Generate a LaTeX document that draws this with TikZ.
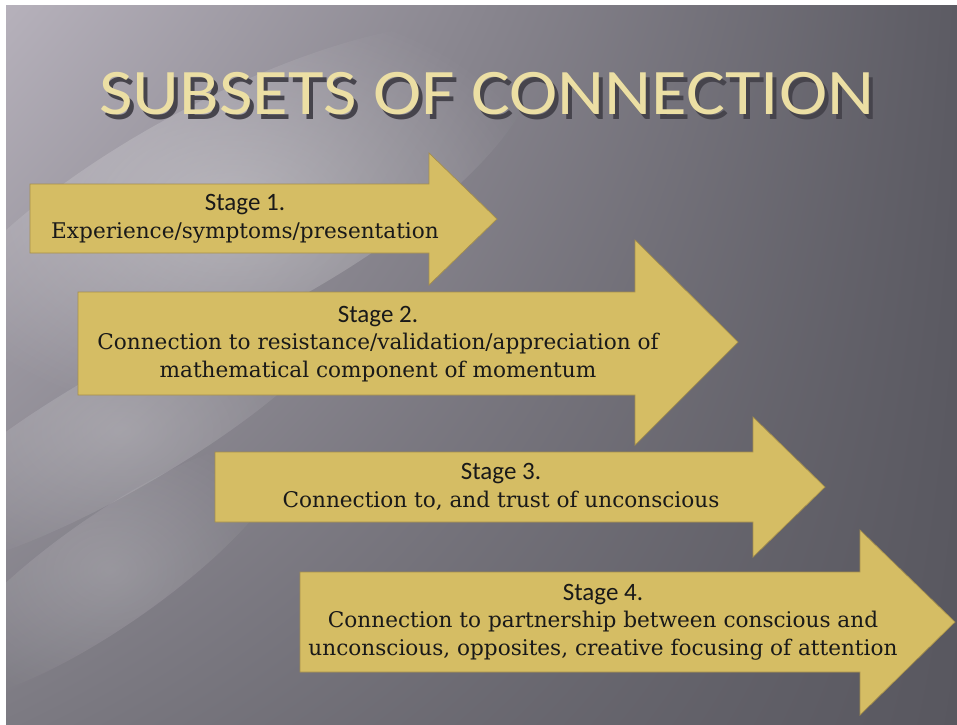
\documentclass[tikz,border=0pt]{standalone}
\usepackage{fontspec}
\setmainfont{DejaVu Serif}
\newfontfamily\titlefont{Carlito}[FakeStretch=1.12]
\newfontfamily\stagefont{Carlito}
\usetikzlibrary{fadings,shadings}

\definecolor{stagegold}{HTML}{D5BD64}
\definecolor{stageedge}{HTML}{A58F4C}
\definecolor{titlegold}{HTML}{ECDFA4}
\definecolor{titleshade}{RGB}{70,68,76}
\definecolor{backul}{RGB}{182,177,187}
\definecolor{backur}{RGB}{92,91,99}
\definecolor{backll}{RGB}{124,122,130}
\definecolor{backlr}{RGB}{88,87,95}
\tikzfading[name=softspot, inner color=transparent!30, outer color=transparent!100]

\begin{document}
\begin{tikzpicture}[x=1pt,y=-1pt,
  stagearrow/.style={fill=stagegold,draw=stageedge,line width=0.7pt,line join=miter},
  stagetext/.style={align=center,text=black!90,font=\fontsize{21.6}{27.5}\selectfont},
  streak/.style={fill=white,path fading=softspot}]
  \useasboundingbox (0,0) rectangle (957,724);
  % backdrop, light at the upper left and dark to the right
  \fill[white] (0,0) rectangle (957,724);
  \shade[upper left=backul,upper right=backur,lower left=backll,lower right=backlr]
    (6,5) rectangle (957,724);
  % soft diagonal light streaks
  \begin{scope}
    \clip (6,5) rectangle (957,724);
    \fill[streak,opacity=0.45,rotate around={28:(230,210)}] (230,210) ellipse (340 and 110);
    \fill[streak,opacity=0.30,rotate around={30:(120,430)}] (120,430) ellipse (260 and 60);
    \fill[streak,opacity=0.25,rotate around={35:(110,570)}] (110,570) ellipse (210 and 55);
  \end{scope}
  % title with its shadow
  \node[text=titlegold,anchor=base] (title) at (487,114)
    {\titlefont\fontsize{65}{65}\selectfont
     \rlap{\hspace{4pt}\raisebox{-5pt}{\color{titleshade}SUBSETS OF CONNECTION}}%
     SUBSETS OF CONNECTION};
  % stage 1
  \draw[stagearrow] (30,184) -- (429,184) -- (429,153) -- (497,219)
    -- (429,285) -- (429,253) -- (30,253) -- cycle;
  \node[stagetext] (stageone) at (245,219)
    {{\stagefont\fontsize{25}{25}\selectfont Stage 1.}\\Experience/symptoms/presentation};
  % stage 2
  \draw[stagearrow] (78,292) -- (635,292) -- (635,240) -- (738,342)
    -- (635,445) -- (635,395) -- (78,395) -- cycle;
  \node[stagetext] (stagetwo) at (378,344)
    {{\stagefont\fontsize{25}{25}\selectfont Stage 2.}\\Connection to resistance/validation/appreciation of\\
     mathematical component of momentum};
  % stage 3
  \draw[stagearrow] (215,452) -- (753,452) -- (753,417) -- (825,487)
    -- (753,557) -- (753,522) -- (215,522) -- cycle;
  \node[stagetext] (stagethree) at (501,487)
    {{\stagefont\fontsize{25}{25}\selectfont Stage 3.}\\Connection to, and trust of unconscious};
  % stage 4
  \draw[stagearrow] (300,572) -- (860,572) -- (860,530) -- (955,622)
    -- (860,715) -- (860,672) -- (300,672) -- cycle;
  \node[stagetext] (stagefour) at (603,622)
    {{\stagefont\fontsize{25}{25}\selectfont Stage 4.}\\Connection to partnership between conscious and\\
     unconscious, opposites, creative focusing of attention};
\end{tikzpicture}
\end{document}
